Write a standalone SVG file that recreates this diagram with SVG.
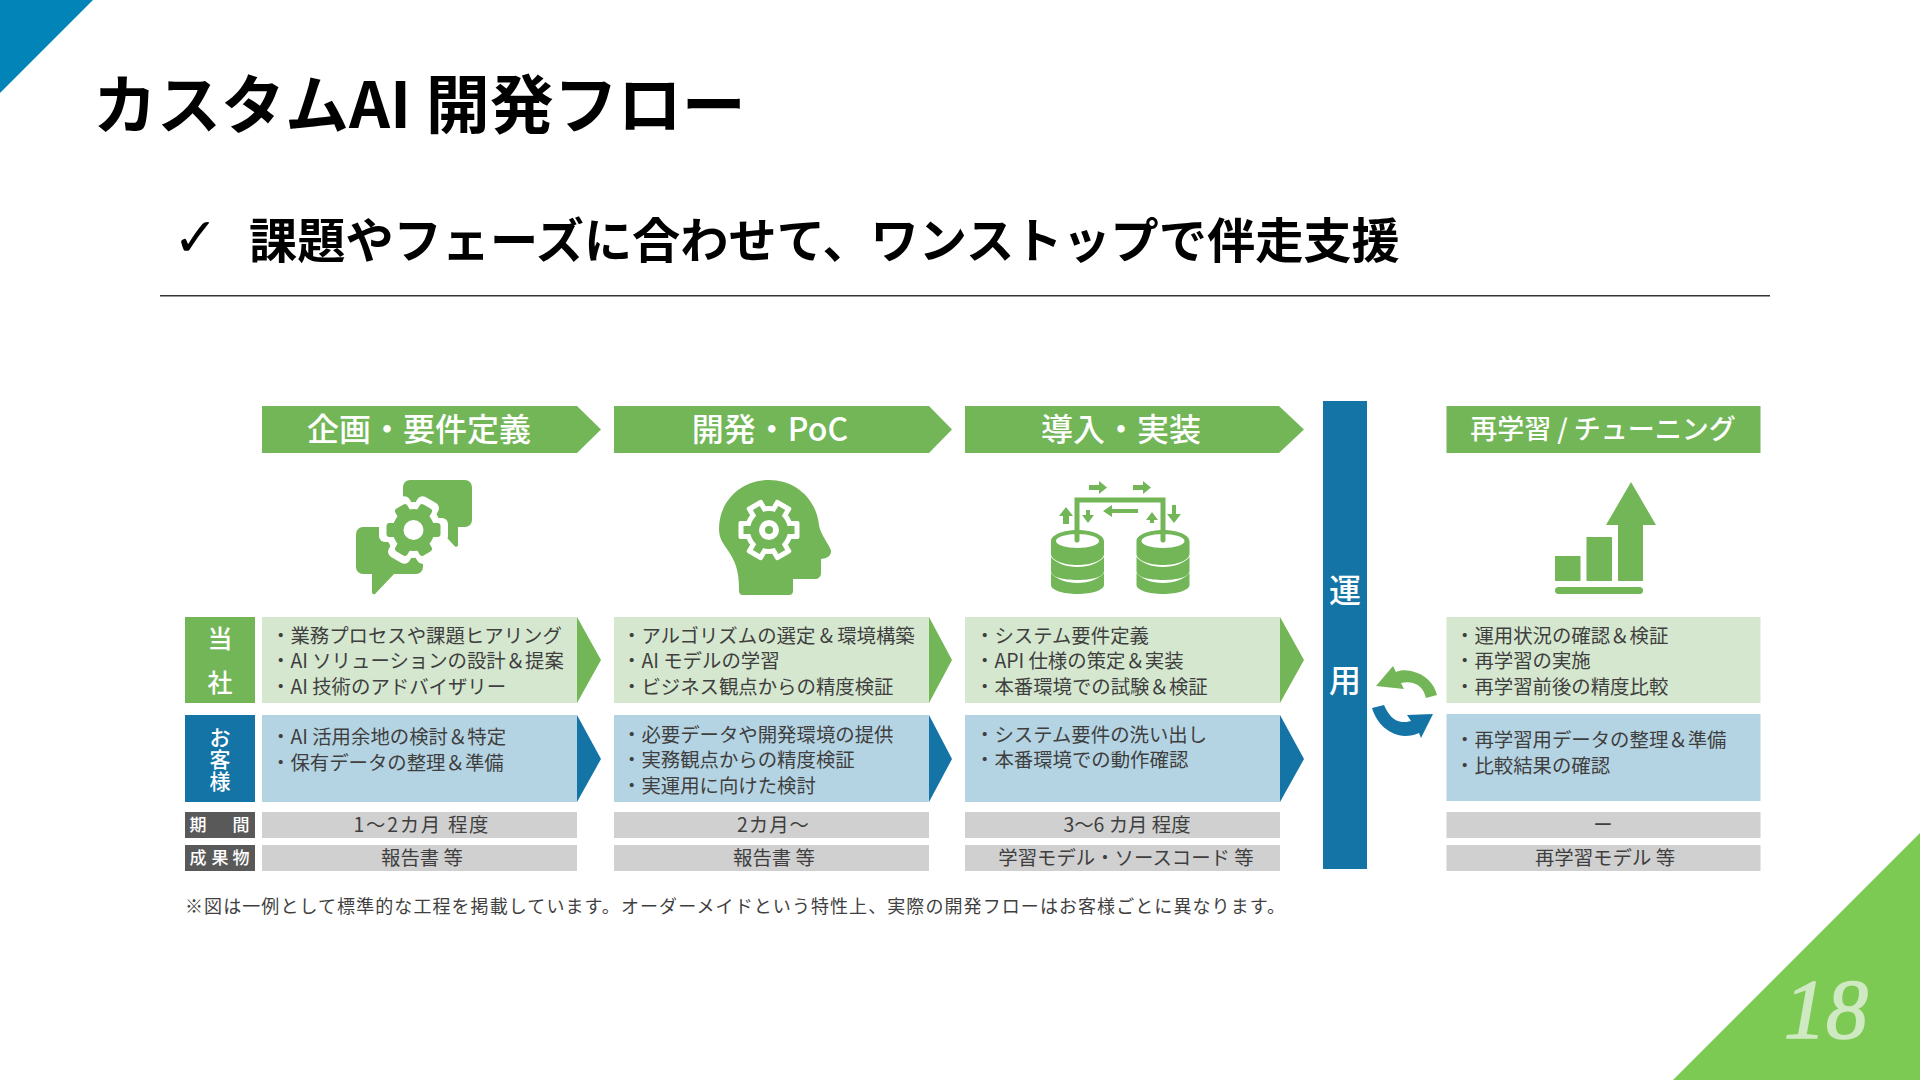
<svg xmlns="http://www.w3.org/2000/svg" width="1920" height="1080" viewBox="0 0 1920 1080">
<style>
text{font-family:"Noto Sans CJK JP","Noto Sans",sans-serif}
.title{font-weight:700;fill:#000}
.h{font-size:32px;fill:#fff;font-weight:500;text-anchor:middle}
.t{font-size:19.400px;fill:#3f3f3f}
.c{font-size:19.400px;fill:#3f3f3f;text-anchor:middle}
.l{fill:#fff;text-anchor:middle;font-weight:500}
.g{fill:#73b658}.lg{fill:#d5e8cf}.b{fill:#1474a6}.lb{fill:#b5d4e3}.gy{fill:#d0d0d0}.dk{fill:#595959}
</style>
<rect width="1920" height="1080" fill="#fff"/>
<polygon points="0,0 93,0 0,93" fill="#0284b8"/>
<polygon points="1920,833 1920,1080 1673,1080" fill="#7cc953"/>
<text x="1826" y="1038" font-size="84" font-style="italic" fill="#cfe9c2" stroke="#cfe9c2" stroke-width="1.500" text-anchor="middle" style="font-family:'Liberation Serif','Noto Sans',serif">18</text>
<text class="title" x="93" y="127.500" font-size="64">カスタムAI 開発フロー</text>
<text x="173" y="256" font-size="54" fill="#000" style="font-family:'DejaVu Sans',sans-serif">✓</text>
<text class="title" x="249" y="258" font-size="48.200">課題やフェーズに合わせて、ワンストップで伴走支援</text>
<rect x="160" y="295" width="1610" height="1.500" fill="#333"/>

<g id="connectors"></g>

<g id="col1">
<polygon class="g" points="262,406 577,406 601,429.500 577,453 262,453"/>
<text class="h" x="419" y="441">企画・要件定義</text>
<g id="icon1">
<path class="g" d="M403,487a7,7 0 0 1 7-7h55a7,7 0 0 1 7,7v33a7,7 0 0 1-7,7h-7v18a2,2 0 0 1-3,1.500l-18-19.500h-34z"/>
<path class="g" d="M356,534a7,7 0 0 1 7-7h53a7,7 0 0 1 7,7v33a7,7 0 0 1-7,7h-22l-19,20a2,2 0 0 1-3-1.500v-18.500h-9a7,7 0 0 1-7-7z"/>
<circle cx="413.500" cy="530" r="28" fill="#fff"/>
<g fill="#fff"><rect x="379" y="518" width="69" height="24" rx="6"/><rect x="379" y="518" width="69" height="24" rx="6" transform="rotate(60 413.500 530)"/><rect x="379" y="518" width="69" height="24" rx="6" transform="rotate(120 413.500 530)"/></g>
<circle class="g" cx="413.500" cy="530" r="21"/>
<g class="g"><rect x="386.500" y="523" width="54" height="14" rx="3"/><rect x="386.500" y="523" width="54" height="14" rx="3" transform="rotate(60 413.500 530)"/><rect x="386.500" y="523" width="54" height="14" rx="3" transform="rotate(120 413.500 530)"/></g>
<circle cx="413.500" cy="530" r="10" fill="#fff"/>
</g>
</g>

<g id="col2">
<polygon class="g" points="614,406 929,406 952,429.500 929,453 614,453"/>
<text class="h" x="770" y="441">開発・PoC</text>
<g id="icon2">
<path class="g" d="M719,529c0-28 22-49 50-49 26 0 47 18 50 45 1 9 12 22 12 26 0 4-2 7-10 8v14c0 4-3 6-6 6h-22v12c0 3-2 4-4 4h-46c-3 0-4-2-4-4 0-22-4-30-12-42-5-7-8-12-8-20z"/>
<circle cx="769" cy="530" r="24" fill="#fff"/>
<g fill="#fff"><rect x="738.500" y="521" width="61" height="18" rx="2"/><rect x="738.500" y="521" width="61" height="18" rx="2" transform="rotate(60 769 530)"/><rect x="738.500" y="521" width="61" height="18" rx="2" transform="rotate(120 769 530)"/></g>
<circle class="g" cx="769" cy="530" r="19"/>
<g class="g"><rect x="743.500" y="526" width="51" height="8"/><rect x="743.500" y="526" width="51" height="8" transform="rotate(60 769 530)"/><rect x="743.500" y="526" width="51" height="8" transform="rotate(120 769 530)"/></g>
<circle cx="769" cy="530" r="10" fill="#fff"/><circle class="g" cx="769" cy="530" r="4"/>
</g>
</g>

<g id="col3">
<polygon class="g" points="965,406 1279,406 1304,429.500 1279,453 965,453"/>
<text class="h" x="1121" y="441">導入・実装</text>
<g id="icon3">
<g id="db1" class="g">
<path fill-rule="evenodd" d="M1051,541c0-6 12-11 26.500-11s26.500,5 26.500,11v13c0,6-12,11-26.500,11s-26.500-5-26.500-11zM1056,541c0,4 10,7 21.500,7s21.500-3 21.500-7-10-7-21.500-7-21.500,3-21.500,7z"/>
<path d="M1051,557c5,6 15,10 26.500,10s21.500-4 26.500-10v14c0,6-12,9-26.500,9s-26.500-3-26.500-9z"/>
<path d="M1051,573c5,6 15,10 26.500,10s21.500-4 26.500-10v12c0,5-12,9-26.500,9s-26.500-4-26.500-9z"/>
</g>
<use href="#db1" x="85.500"/>
<path d="M1077,540V500H1163V540" fill="none" stroke="#73b658" stroke-width="5" stroke-linecap="round"/>
<g class="g">
<polygon points="1089,485 1099,485 1099,481 1107,487.500 1099,494 1099,490 1089,490"/>
<polygon points="1133,485 1143,485 1143,481 1151,487.500 1143,494 1143,490 1133,490"/>
<polygon points="1103,511 1112,505 1112,509 1138,509 1138,513 1112,513 1112,517"/>
<polygon points="1066,507 1073,516 1069,516 1069,524 1063,524 1063,516 1059,516"/>
<polygon points="1088,523 1094,515 1090,515 1090,510 1086,510 1086,515 1082,515"/>
<polygon points="1152,512 1158,520 1154,520 1154,523 1150,523 1150,520 1146,520"/>
<polygon points="1174,523 1181,514 1176,514 1176,505 1172,505 1172,514 1167,514"/>
</g>
</g>
</g>

<g id="bar"><rect class="b" x="1323" y="401" width="44" height="468"/>
<text class="l" x="1345" y="602" font-size="32">運</text>
<text class="l" x="1345" y="692" font-size="32">用</text>
</g>

<g id="cycle">
<path class="g" d="M1437,695c-3-12-12-21-26-24-6-1-11-1-15,1l-3-6-17,20 28,3-3-6c4-1 8-1 12,0 7 2 11 7 13,15z"/>
<path class="b" d="M1372,708c5 16 17 27 33 28 5 0 10-1 14-3l2,5 12-24-26,1 4,6c-3 1-6 1-9 1-9-1-14-8-18-17z"/>
</g>

<g id="col4">
<rect class="g" x="1446.500" y="406" width="314" height="47"/>
<text class="h" style="font-size:27px" x="1603" y="439">再学習 / チューニング</text>
<g id="icon4" class="g">
<rect x="1555" y="556" width="25.500" height="25"/>
<rect x="1586.500" y="537" width="25.500" height="44"/>
<polygon points="1618,581 1618,525 1606,525 1631,482 1656,525 1643,525 1643,581"/>
<rect x="1555" y="587" width="88" height="7" rx="3.500"/>
</g>
</g>

<g id="row-ours">
<rect class="g" x="185" y="617" width="70" height="86"/>
<text class="l" x="220" y="648" font-size="25">当</text>
<text class="l" x="220" y="692" font-size="25">社</text>
<g id="ours1"><rect class="lg" x="262" y="617" width="315" height="86"/><polygon class="g" points="577,617 601,660 577,703"/>
<text class="t" x="271" y="643">・業務プロセスや課題ヒアリング</text><text class="t" x="271" y="668">・AI ソリューションの設計＆提案</text><text class="t" x="271" y="694">・AI 技術のアドバイザリー</text></g>
<g id="ours2"><rect class="lg" x="614" y="617" width="315" height="86"/><polygon class="g" points="929,617 952,660 929,703"/>
<text class="t" x="622" y="643">・アルゴリズムの選定 &amp; 環境構築</text><text class="t" x="622" y="668">・AI モデルの学習</text><text class="t" x="622" y="694">・ビジネス観点からの精度検証</text></g>
<g id="ours3"><rect class="lg" x="965" y="617" width="315" height="86"/><polygon class="g" points="1280,617 1304,660 1280,703"/>
<text class="t" x="975" y="643">・システム要件定義</text><text class="t" x="975" y="668">・API 仕様の策定＆実装</text><text class="t" x="975" y="694">・本番環境での試験＆検証</text></g>
<g id="ours4"><rect class="lg" x="1446.500" y="617" width="314" height="86"/>
<text class="t" x="1455" y="643">・運用状況の確認＆検証</text><text class="t" x="1455" y="668">・再学習の実施</text><text class="t" x="1455" y="694">・再学習前後の精度比較</text></g>
</g>

<g id="row-client">
<rect class="b" x="185" y="715" width="70" height="87"/>
<text class="l" x="220" y="745" font-size="21">お</text>
<text class="l" x="220" y="767" font-size="21">客</text>
<text class="l" x="220" y="789" font-size="21">様</text>
<g id="client1"><rect class="lb" x="262" y="715" width="315" height="87"/><polygon class="b" points="577,715 601,759 577,802"/>
<text class="t" x="271" y="744">・AI 活用余地の検討＆特定</text><text class="t" x="271" y="770">・保有データの整理＆準備</text></g>
<g id="client2"><rect class="lb" x="614" y="715" width="315" height="87"/><polygon class="b" points="929,715 952,759 929,802"/>
<text class="t" x="622" y="742">・必要データや開発環境の提供</text><text class="t" x="622" y="767">・実務観点からの精度検証</text><text class="t" x="622" y="793">・実運用に向けた検討</text></g>
<g id="client3"><rect class="lb" x="965" y="715" width="315" height="87"/><polygon class="b" points="1280,715 1304,759 1280,802"/>
<text class="t" x="975" y="742">・システム要件の洗い出し</text><text class="t" x="975" y="767">・本番環境での動作確認</text></g>
<g id="client4"><rect class="lb" x="1446.500" y="714" width="314" height="87"/>
<text class="t" x="1455" y="747">・再学習用データの整理＆準備</text><text class="t" x="1455" y="773">・比較結果の確認</text></g>
</g>

<g id="row-period">
<rect class="dk" x="185" y="812" width="70" height="26"/>
<text class="l" x="198" y="831" font-size="17">期</text><text class="l" x="241" y="831" font-size="17">間</text>
<rect class="gy" x="262" y="812" width="315" height="26"/><text class="c" x="421" y="832" textLength="135">1〜2カ月 程度</text>
<rect class="gy" x="614" y="812" width="315" height="26"/><text class="c" x="773" y="832" textLength="72">2カ月〜</text>
<rect class="gy" x="965" y="812" width="315" height="26"/><text class="c" x="1127" y="832">3〜6 カ月 程度</text>
<rect class="gy" x="1446.500" y="812" width="314" height="26"/><text class="c" x="1603" y="832">ー</text>
</g>

<g id="row-output">
<rect class="dk" x="185" y="845" width="70" height="26"/>
<text class="l" x="198" y="864" font-size="17">成</text><text class="l" x="220" y="864" font-size="17">果</text><text class="l" x="241" y="864" font-size="17">物</text>
<rect class="gy" x="262" y="845" width="315" height="26"/><text class="c" x="422" y="865">報告書 等</text>
<rect class="gy" x="614" y="845" width="315" height="26"/><text class="c" x="774" y="865">報告書 等</text>
<rect class="gy" x="965" y="845" width="315" height="26"/><text class="c" x="1126" y="865">学習モデル・ソースコード 等</text>
<rect class="gy" x="1446.500" y="845" width="314" height="26"/><text class="c" x="1605" y="865">再学習モデル 等</text>
</g>

<text x="185" y="913" font-size="18" fill="#3f3f3f" textLength="1100">※図は一例として標準的な工程を掲載しています。オーダーメイドという特性上、実際の開発フローはお客様ごとに異なります。</text>
</svg>
